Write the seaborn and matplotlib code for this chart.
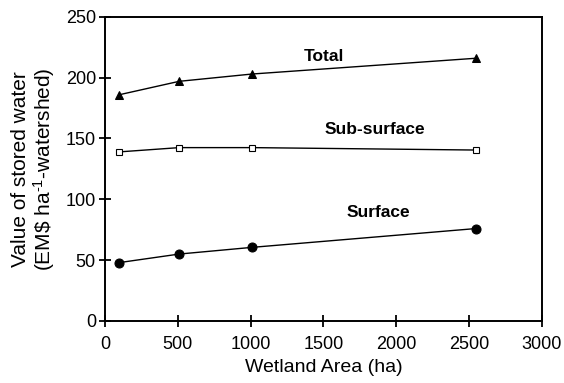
import matplotlib
matplotlib.use("Agg")
import matplotlib.pyplot as plt
import seaborn as sns
import pandas as pd

# Wetland area (ha) and stored-water value per component
wetland_area = [100, 510, 1010, 2550]
total = [186, 197, 203, 216]
sub_surface = [139, 142.5, 142.5, 140.5]
surface = [48, 55, 60.5, 76]

series_names = ["Total", "Sub-surface", "Surface"]
x_ticks = [0, 500, 1000, 1500, 2000, 2500, 3000]
y_ticks = [0, 50, 100, 150, 200, 250]

df = pd.DataFrame({
    "area": wetland_area * 3,
    "value": total + sub_surface + surface,
    "component": sum([[n] * len(wetland_area) for n in series_names], []),
})

sns.set_theme(style="white")
plt.rcParams["font.family"] = ["Liberation Sans", "DejaVu Sans"]
plt.rcParams["mathtext.fontset"] = "custom"
plt.rcParams["mathtext.rm"] = "Liberation Sans"
plt.rcParams["mathtext.default"] = "regular"
for key in ("text.color", "axes.labelcolor", "xtick.color", "ytick.color"):
    plt.rcParams[key] = "black"

fig = plt.figure(figsize=(5.64, 3.83), dpi=100)
ax = fig.add_axes([0.186, 0.162, 0.775, 0.794])

styles = {
    "Total": dict(marker="^", markersize=5.5, markerfacecolor="black", markeredgecolor="black"),
    "Sub-surface": dict(marker="s", markersize=4.2, markerfacecolor="white", markeredgecolor="black", markeredgewidth=0.8),
    "Surface": dict(marker="o", markersize=6.5, markerfacecolor="black", markeredgecolor="black"),
}
for name in series_names:
    sns.lineplot(data=df[df["component"] == name], x="area", y="value",
                 color="black", linewidth=1.0, ax=ax, legend=False, **styles[name])

label_pos = {"Total": (1500, 217), "Sub-surface": (1852, 157), "Surface": (1880, 89)}
for name, (lx, ly) in label_pos.items():
    ax.text(lx, ly, name, ha="center", va="center", fontsize=12.5, fontweight="bold")

ax.set_xlim(0, 3000)
ax.set_ylim(0, 250)
ax.set_xticks(x_ticks)
ax.set_yticks(y_ticks)
ax.tick_params(direction="inout", length=9, width=1.3, colors="black",
               labelsize=13, bottom=True, left=True)
ax.tick_params(axis="x", pad=6)
ax.tick_params(axis="y", pad=2)
for sp in ax.spines.values():
    sp.set_color("black")
    sp.set_linewidth(1.4)

ax.set_xlabel("Wetland Area (ha)", fontsize=14, labelpad=5)
ax.set_ylabel("Value of stored water\n(EM\\$ ha$^{\\text{-1}}$-watershed)", fontsize=15,
              labelpad=6, linespacing=1.05)

fig.savefig("out.png", dpi=100)
